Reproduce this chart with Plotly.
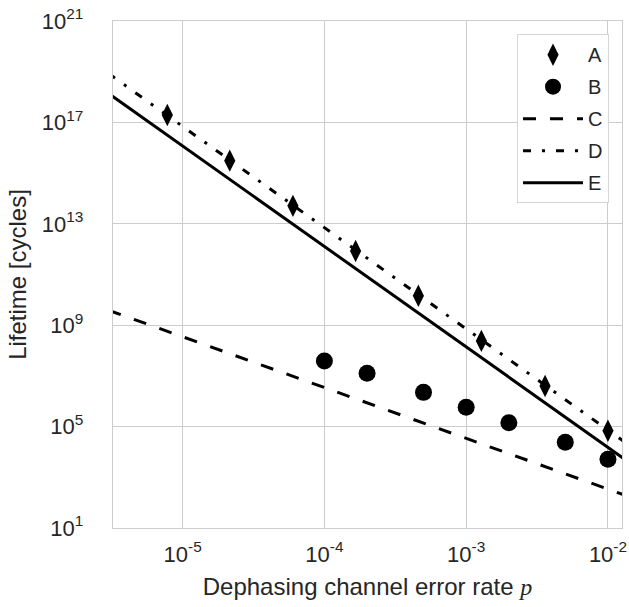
import plotly.graph_objects as go

# ---- data ----
p_A = [7.8e-6, 2.15e-5, 6.0e-5, 1.66e-4, 4.6e-4, 1.28e-3, 3.6e-3, 1.0e-2]
life_A = [1.95e17, 3.1e15, 5.1e13, 8.5e11, 1.45e10, 2.4e8, 4.0e6, 6.9e4]

p_B = [1e-4, 2e-4, 5e-4, 1e-3, 2e-3, 5e-3, 1e-2]
life_B = [3.9e7, 1.26e7, 2.24e6, 5.75e5, 1.41e5, 2.4e4, 5.1e3]

p_line = [3.0e-6, 1.4e-2]
life_C = [3.9e9, 174]
life_D = [8.5e18, 1.9e4]
life_E = [1.38e18, 4.0e3]

series_names = ["A", "B", "C", "D", "E"]

x_tickvals = [1e-5, 1e-4, 1e-3, 1e-2]
x_ticktext = ["10<sup>-5</sup>", "10<sup>-4</sup>", "10<sup>-3</sup>", "10<sup>-2</sup>"]
y_tickvals = [1e1, 1e5, 1e9, 1e13, 1e17, 1e21]
y_ticktext = ["10<sup>1</sup>", "10<sup>5</sup>", "10<sup>9</sup>",
              "10<sup>13</sup>", "10<sup>17</sup>", "10<sup>21</sup>"]

x_title = "Dephasing channel error rate <span style=\"font-family:'Liberation Serif';font-style:italic\">p</span>"
y_title = "Lifetime [cycles]"

FONT = "Liberation Sans, Arial, sans-serif"
TXT = "#262626"
GRID = "#cccccc"

fig = go.Figure()
fig.add_trace(go.Scatter(x=p_A, y=life_A, mode="markers", name=series_names[0],
                         legendgroup="a",
                         marker=dict(symbol="diamond-tall", size=16, color="black",
                                     line=dict(width=0))))
fig.add_trace(go.Scatter(x=p_B, y=life_B, mode="markers", name=series_names[1],
                         legendgroup="b",
                         marker=dict(symbol="circle", size=17, color="black",
                                     line=dict(width=0))))
fig.add_trace(go.Scatter(x=p_line, y=life_C, mode="lines", name=series_names[2],
                         legendgroup="c",
                         line=dict(color="black", width=3, dash="13px,14px")))
fig.add_trace(go.Scatter(x=p_line, y=life_D, mode="lines", name=series_names[3],
                         legendgroup="d",
                         line=dict(color="black", width=3, dash="8px,11px,3px,11px")))
fig.add_trace(go.Scatter(x=p_line, y=life_E, mode="lines", name=series_names[4],
                         legendgroup="e",
                         line=dict(color="black", width=3)))

fig.update_layout(
    width=629, height=607,
    margin=dict(l=113, r=7, t=21, b=79, autoexpand=False),
    paper_bgcolor="white", plot_bgcolor="white",
    font=dict(family=FONT, color=TXT, size=22),
    showlegend=True,
    legend=dict(x=0.9745, y=0.974, xanchor="right", yanchor="top",
                bgcolor="white", bordercolor="#d6d6d6", borderwidth=1,
                font=dict(size=20, family=FONT, color=TXT),
                tracegroupgap=3, itemwidth=60),
    xaxis=dict(type="log", range=[-5.491, -1.901], automargin=False,
               tickmode="array", tickvals=x_tickvals, ticktext=x_ticktext,
               showgrid=True, gridcolor=GRID, gridwidth=1.4,
               showline=True, linecolor=GRID, linewidth=1.4, mirror=True,
               ticks="", zeroline=False, ticklabelstandoff=6,
               tickfont=dict(size=22, family=FONT, color=TXT),
               title=dict(text=x_title, font=dict(size=24, family=FONT, color=TXT),
                          standoff=12)),
    yaxis=dict(type="log", range=[1, 21], automargin=False,
               tickmode="array", tickvals=y_tickvals, ticktext=y_ticktext,
               showgrid=True, gridcolor=GRID, gridwidth=1.4,
               showline=True, linecolor=GRID, linewidth=1.4, mirror=True,
               ticks="", zeroline=False, ticklabelstandoff=24,
               tickfont=dict(size=22, family=FONT, color=TXT),
               title=dict(text=y_title, font=dict(size=24, family=FONT, color=TXT),
                          standoff=8)),
)

fig.write_html("out.html",
               config={"displayModeBar": False},
               post_script="document.body.style.margin='0';document.body.style.padding='0';")
